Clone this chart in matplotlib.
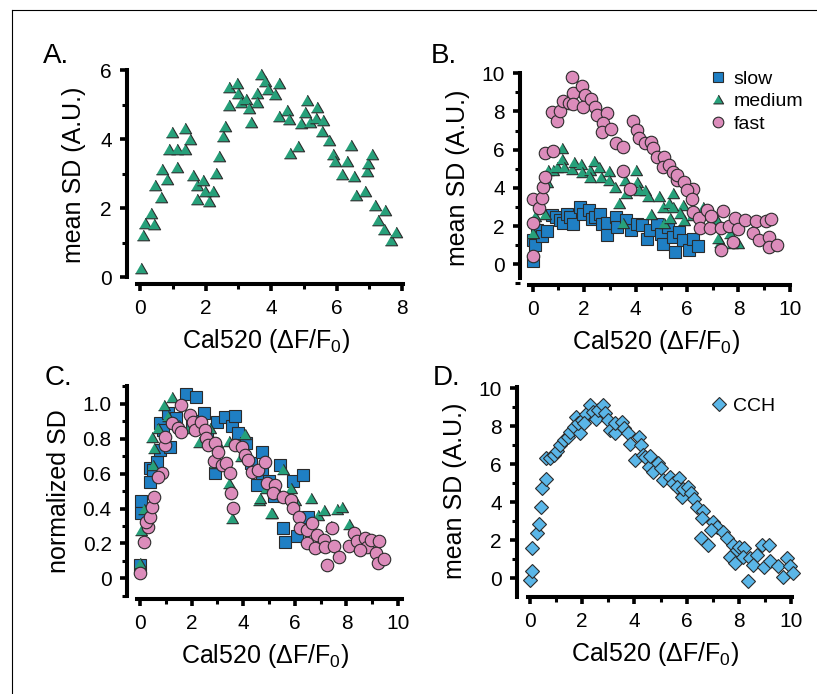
import numpy as np
import matplotlib
matplotlib.use('Agg')
import matplotlib.pyplot as plt
from matplotlib.lines import Line2D
from matplotlib.ticker import MultipleLocator

plt.rcParams['font.family'] = ['Liberation Sans', 'DejaVu Sans']
plt.rcParams['mathtext.fontset'] = 'custom'
plt.rcParams['mathtext.rm'] = 'Liberation Sans'

# ---------------- data ----------------
# A: medium cells, mean SD vs Cal520
a_x = [0.02, 0.08, 0.14, 0.33, 0.44, 0.46, 0.66, 0.65, 0.81, 0.87, 0.99, 1.14, 1.14, 1.38, 1.38,
       1.53, 1.61, 1.73, 1.75, 1.93, 1.97, 2.10, 2.24, 2.32, 2.42, 2.52, 2.60, 2.73, 2.73, 2.95,
       2.99, 3.07, 3.24, 3.34, 3.40, 3.56, 3.58, 3.70, 3.83, 3.91, 4.13, 4.25, 4.24, 4.48, 4.56,
       4.58, 4.82, 4.93, 5.03, 5.11, 5.19, 5.37, 5.41, 5.58, 5.56, 5.76, 5.88, 5.96, 6.17, 6.31,
       6.45, 6.53, 6.60, 6.86, 6.92, 6.96, 7.08, 7.18, 7.27, 7.49, 7.45, 7.65, 7.82]
a_y = [0.25, 1.22, 1.56, 1.85, 1.53, 2.67, 3.15, 2.33, 2.86, 3.73, 4.22, 3.71, 3.21, 4.32, 3.73,
       4.00, 2.97, 2.68, 2.26, 2.82, 2.51, 2.22, 2.49, 3.01, 3.52, 4.09, 4.39, 4.99, 5.53, 5.65,
       5.34, 5.09, 5.17, 4.92, 4.51, 5.34, 5.07, 5.90, 5.69, 5.47, 5.32, 5.65, 4.68, 4.85, 4.58,
       3.61, 3.81, 4.47, 4.78, 5.13, 4.51, 4.62, 4.95, 4.56, 4.23, 3.98, 3.58, 3.38, 2.99, 3.38,
       3.83, 2.94, 2.39, 2.51, 3.09, 3.32, 3.58, 2.08, 1.66, 1.95, 1.40, 1.08, 1.31]

# B: slow / medium / fast
slow_x = [0.0, 0.0, 0.08, 0.18, 0.35, 0.57, 0.75, 0.91, 1.05, 1.19, 1.32, 1.45, 1.58, 1.84, 1.97,
          2.20, 2.31, 2.44, 2.62, 2.69, 2.88, 2.90, 3.24, 3.29, 3.63, 3.81, 4.04, 4.25, 4.43, 4.56,
          4.82, 4.97, 5.08, 5.26, 5.47, 5.54, 5.70, 5.85, 6.06, 6.22, 6.42]
slow_y = [0.15, 1.25, 1.00, 1.78, 1.50, 1.76, 2.58, 2.45, 2.30, 2.15, 2.64, 2.45, 2.12, 3.00, 2.64,
          2.85, 2.36, 2.50, 2.64, 2.10, 2.18, 1.55, 2.50, 1.97, 2.32, 1.80, 2.12, 2.06, 1.33, 1.80,
          2.11, 1.57, 1.06, 1.97, 1.45, 0.66, 1.71, 1.27, 0.75, 1.31, 0.98]

med_x = [0.03, 0.10, 0.49, 0.55, 0.60, 0.80, 0.93, 1.14, 1.14, 1.22, 1.53, 1.61, 1.87, 1.92, 2.23,
         2.38, 2.56, 2.23, 2.64, 2.95, 2.98, 3.21, 3.34, 3.58, 3.63, 4.02, 4.04, 4.15, 4.38, 4.48,
         4.92, 5.08, 5.28, 5.47, 4.61, 3.50, 5.10, 5.47, 5.85, 5.73, 5.34, 5.88, 6.20, 6.61, 6.90,
         7.05, 7.15, 7.28, 7.67, 7.73, 7.99, 7.20]
med_y = [1.66, 2.55, 2.64, 4.30, 4.94, 4.94, 5.08, 6.07, 5.53, 5.08, 4.97, 5.36, 5.25, 4.83, 4.94,
         5.43, 5.11, 4.55, 4.59, 4.90, 4.41, 4.07, 3.23, 4.41, 3.72, 4.94, 4.33, 3.89, 3.89, 3.58,
         3.58, 3.02, 3.19, 3.72, 2.64, 2.18, 2.15, 3.02, 3.11, 2.67, 2.41, 2.32, 2.60, 3.02, 2.20,
         2.55, 2.32, 1.19, 1.62, 1.13, 1.10, 1.36]

fast_x = [0.03, 0.03, 0.0, 0.23, 0.36, 0.39, 0.49, 0.47, 0.80, 0.75, 0.93, 1.06, 1.19, 1.40, 1.53,
          1.58, 1.55, 1.92, 2.05, 1.97, 2.28, 2.44, 2.49, 2.90, 2.72, 2.69, 3.06, 3.24, 3.52, 3.50,
          3.78, 3.91, 4.04, 4.15, 4.38, 4.61, 4.69, 4.82, 5.10, 5.08, 5.31, 5.47, 5.62, 5.60, 5.88,
          6.22, 5.99, 6.18, 6.24, 6.48, 6.76, 6.50, 6.89, 6.92, 7.38, 7.31, 7.64, 7.87, 8.00, 8.26,
          8.70, 9.07, 9.27, 8.55, 8.81, 9.17, 9.20, 9.51, 7.80, 7.31]
fast_y = [0.45, 2.18, 3.40, 2.93, 3.46, 4.07, 4.59, 5.85, 5.92, 7.98, 7.49, 8.00, 8.53, 8.43, 9.79,
          8.95, 8.39, 9.34, 8.88, 8.25, 8.64, 8.25, 7.84, 7.91, 7.42, 6.95, 7.07, 6.37, 6.16, 4.90,
          3.93, 7.52, 7.03, 6.60, 6.37, 6.42, 6.07, 5.60, 5.64, 5.11, 5.18, 4.85, 4.41, 4.68, 4.33,
          3.93, 3.89, 3.40, 2.76, 2.41, 2.84, 1.88, 1.88, 2.53, 2.81, 1.88, 2.00, 2.41, 1.87, 2.32,
          2.29, 2.25, 2.36, 1.62, 1.27, 1.45, 0.92, 1.01, 1.19, 0.75]

# C: normalized SD
slow_nx = [0.0, 0.04, 0.04, 0.37, 0.40, 0.50, 0.66, 0.76, 0.79, 0.90, 1.10, 1.15, 1.40, 1.77, 2.00,
           2.16, 2.49, 2.60, 2.91, 2.98, 3.29, 3.55, 3.68, 3.79, 4.10, 4.30, 4.52, 4.72, 4.73, 5.00,
           5.20, 5.43, 5.56, 5.61, 5.92, 6.07, 6.31, 6.50]
slow_ny = [0.076, 0.445, 0.377, 0.554, 0.631, 0.620, 0.669, 0.736, 0.889, 0.850, 0.950, 0.755, 0.920,
           1.057, 0.900, 1.042, 0.946, 0.840, 0.602, 0.899, 0.927, 0.874, 0.931, 0.832, 0.774, 0.660,
           0.535, 0.727, 0.602, 0.560, 0.470, 0.650, 0.287, 0.210, 0.555, 0.240, 0.593, 0.350]

med_nx = [0.0, 0.04, 0.17, 0.45, 0.50, 0.56, 0.70, 0.92, 1.10, 1.23, 1.50, 1.90, 2.29, 2.70, 2.90,
          3.00, 3.45, 3.45, 3.55, 3.90, 4.07, 4.60, 4.65, 4.90, 5.09, 5.10, 5.53, 5.87, 6.00, 6.62,
          6.90, 7.13, 7.40, 7.65, 7.83, 8.08]
med_ny = [0.086, 0.277, 0.400, 0.810, 0.650, 0.750, 0.860, 0.996, 0.930, 1.042, 0.880, 0.860, 0.784,
          0.860, 0.660, 0.780, 0.549, 0.790, 0.344, 0.700, 0.826, 0.449, 0.459, 0.520, 0.373, 0.373,
          0.625, 0.516, 0.450, 0.459, 0.360, 0.392, 0.300, 0.400, 0.411, 0.312]

fast_nx = [0.0, 0.14, 0.32, 0.22, 0.40, 0.45, 0.53, 0.84, 0.71, 0.97, 0.97, 1.23, 1.49, 1.59, 1.59,
           1.95, 2.07, 2.13, 2.36, 2.52, 2.57, 2.65, 2.91, 2.86, 3.04, 3.17, 3.35, 3.50, 3.53, 3.60,
           3.68, 3.94, 4.07, 4.20, 4.33, 4.59, 4.85, 4.94, 5.24, 5.17, 5.56, 5.87, 5.92, 6.15, 6.20,
           6.46, 6.65, 6.85, 7.13, 7.44, 6.49, 6.80, 7.16, 7.52, 7.26, 7.73, 8.09, 8.29, 8.42, 8.72,
           8.79, 8.94, 9.28, 9.15, 9.24, 9.46, 8.53]
fast_ny = [0.033, 0.210, 0.296, 0.325, 0.354, 0.407, 0.468, 0.602, 0.580, 0.765, 0.813, 0.889, 0.860,
           0.994, 0.841, 0.937, 0.899, 0.851, 0.895, 0.851, 0.803, 0.765, 0.774, 0.675, 0.727, 0.650,
           0.660, 0.602, 0.488, 0.405, 0.765, 0.755, 0.707, 0.679, 0.612, 0.621, 0.669, 0.545, 0.535,
           0.488, 0.468, 0.449, 0.402, 0.354, 0.287, 0.277, 0.316, 0.249, 0.220, 0.287, 0.201, 0.172,
           0.182, 0.185, 0.076, 0.124, 0.185, 0.262, 0.216, 0.229, 0.182, 0.220, 0.216, 0.143, 0.086,
           0.109, 0.163]

# D: CCH
cch_x = [0.0, 0.06, 0.09, 0.27, 0.34, 0.42, 0.47, 0.63, 0.60, 0.75, 0.91, 1.03, 1.16, 1.29, 1.47,
         1.55, 1.70, 1.75, 1.93, 1.83, 1.98, 2.13, 2.08, 2.31, 2.41, 2.52, 2.62, 2.80, 2.87, 3.00,
         3.08, 3.26, 3.26, 3.51, 3.59, 3.74, 3.84, 4.02, 4.18, 4.25, 4.34, 4.41, 4.56, 4.60, 4.70,
         4.92, 5.01, 5.11, 5.36, 5.49, 5.72, 5.64, 5.81, 5.85, 6.06, 6.16, 6.28, 6.41, 6.62, 6.58,
         7.00, 7.18, 6.92, 6.54, 6.83, 7.41, 7.54, 7.79, 7.66, 7.92, 8.02, 8.20, 7.86, 8.15, 8.43,
         8.33, 8.68, 8.55, 8.89, 9.17, 8.97, 9.19, 9.48, 9.83, 9.96, 9.67, 10.07]
cch_y = [-0.09, 0.40, 1.58, 2.40, 2.86, 3.77, 4.74, 5.21, 6.32, 6.32, 6.49, 6.70, 7.02, 7.28, 7.46,
         7.72, 7.95, 8.47, 7.63, 8.16, 8.33, 8.65, 8.16, 9.12, 8.77, 8.37, 8.86, 9.12, 8.68, 8.33,
         7.81, 7.63, 8.16, 8.25, 7.89, 7.63, 7.07, 6.23, 7.46, 7.02, 6.49, 6.40, 5.88, 6.44, 5.61,
         6.05, 5.79, 5.18, 5.35, 5.00, 5.26, 4.79, 4.30, 4.68, 4.82, 4.47, 4.16, 3.77, 3.56, 3.16,
         2.98, 2.72, 2.54, 2.11, 1.75, 2.46, 2.11, 1.75, 1.14, 1.49, 1.67, 1.58, 0.79, 1.14, 1.05,
         -0.12, 1.23, 0.70, 1.75, 1.75, 0.61, 0.93, 0.65, 1.05, 0.65, 0.09, 0.26]

# ---------------- styling ----------------
GREEN = '#27a07a'
BLUE = '#1f7fc4'
PINK = '#dc8cbb'
LIGHTBLUE = '#5ab6e8'
EDGE = '#2b2b2b'
TRI = [(-1, -0.866), (1, -0.866), (0, 0.866)]  # equilateral triangle marker

W, H = 817, 694
fig = plt.figure(figsize=(W / 100, H / 100), dpi=100)

# thin frame (left + top edge) of the original figure panel
fig.add_artist(Line2D([12 / W, 12 / W], [0, 1 - 10 / H], color='black', lw=0.8))
fig.add_artist(Line2D([12 / W, 1], [1 - 10 / H, 1 - 10 / H], color='black', lw=0.8))


def add_ax(left, right, top, bottom):
    return fig.add_axes([left / W, 1 - bottom / H, (right - left) / W, (bottom - top) / H])


def style(ax, xlim, ylim, xb, yb, ymaj, ymin, xmaj=2, xmin=1):
    ax.set_xlim(*xlim)
    ax.set_ylim(*ylim)
    for s in ['top', 'right']:
        ax.spines[s].set_visible(False)
    for s in ['left', 'bottom']:
        ax.spines[s].set_linewidth(2.9)
    ax.spines['bottom'].set_bounds(*xb)
    ax.spines['left'].set_bounds(*yb)
    ax.xaxis.set_major_locator(MultipleLocator(xmaj))
    ax.xaxis.set_minor_locator(MultipleLocator(xmin))
    ax.yaxis.set_major_locator(MultipleLocator(ymaj))
    ax.yaxis.set_minor_locator(MultipleLocator(ymin))
    ax.tick_params(which='major', direction='out', length=5, width=2.6, labelsize=15, pad=6)
    ax.tick_params(which='minor', direction='out', length=3.5, width=2.2)
    ax.tick_params(axis='x', which='both', pad=6)
    # Prism-style detached axis lines, also drawn at figure level along the axes edges
    fig.add_artist(Line2D([xlim[0], xlim[0]], list(yb), transform=ax.transData, color='black',
                          lw=2.9, solid_capstyle='butt', zorder=10))
    fig.add_artist(Line2D(list(xb), [ylim[0], ylim[0]], transform=ax.transData, color='black',
                          lw=2.9, solid_capstyle='butt', zorder=10))


def sc(ax, x, y, marker, color, size, label=None):
    ax.plot(x, y, linestyle='none', marker=marker, markersize=size, markerfacecolor=color,
            markeredgecolor=EDGE, markeredgewidth=0.8, clip_on=False, label=label)


XLABEL = r'Cal520 ($\Delta$F/F$_{0}$)'

# A
axA = add_ax(127, 405, 66, 284)
sc(axA, a_x, a_y, TRI, GREEN, 8.8)
style(axA, (-0.397, 8.09), (-0.203, 6.13), (-0.1, 8.03), (0, 6.02), 2, 1)
axA.set_ylabel('mean SD (A.U.)', fontsize=18, labelpad=10)
axA.set_xlabel(XLABEL, fontsize=18, labelpad=6)

# B
axB = add_ax(520, 793, 70, 285)
sc(axB, slow_x, slow_y, 's', BLUE, 8.0, 'slow')
sc(axB, med_x, med_y, TRI, GREEN, 8.6, 'medium')
sc(axB, fast_x, fast_y, 'o', PINK, 9.0, 'fast')
style(axB, (-0.494, 10.12), (-1.084, 10.17), (-0.14, 10.02), (-0.73, 10.02), 2, 1)
axB.set_ylabel('mean SD (A.U.)', fontsize=18, labelpad=8)
axB.set_xlabel(XLABEL, fontsize=18, labelpad=6)
axB.legend(loc='upper left', bbox_to_anchor=(709 / W, 1 - 70 / H), bbox_transform=fig.transFigure,
           frameon=False, fontsize=14, numpoints=1, handlelength=0.9, handletextpad=0.35,
           labelspacing=0.25, borderpad=0, borderaxespad=0, markerscale=0.85)

# C
axC = add_ax(127, 404, 383, 599)
sc(axC, slow_nx, slow_ny, 's', BLUE, 8.0)
sc(axC, med_nx, med_ny, TRI, GREEN, 8.6)
sc(axC, fast_nx, fast_ny, 'o', PINK, 9.0)
style(axC, (-0.504, 10.23), (-0.119, 1.12), (-0.1, 10.15), (-0.1, 1.1), 0.2, 0.1)
axC.set_yticks([0, 0.2, 0.4, 0.6, 0.8, 1.0])
axC.set_yticklabels(['0', '0.2', '0.4', '0.6', '0.8', '1.0'])
axC.set_ylabel('normalized SD', fontsize=18, labelpad=8)
axC.set_xlabel(XLABEL, fontsize=18, labelpad=6)

# D
axD = add_ax(517, 794, 385, 597)
sc(axD, cch_x, cch_y, 'D', LIGHTBLUE, 6.8, 'CCH')
style(axD, (-0.498, 10.11), (-0.98, 10.17), (-0.07, 10.05), (-0.97, 10.05), 2, 1)
axD.set_ylabel('mean SD (A.U.)', fontsize=18, labelpad=8)
axD.set_xlabel(XLABEL, fontsize=18, labelpad=6)
axD.legend(loc='upper left', bbox_to_anchor=(710 / W, 1 - 397 / H), bbox_transform=fig.transFigure,
           frameon=False, fontsize=14, numpoints=1, handlelength=0.9, handletextpad=0.3,
           borderpad=0, borderaxespad=0)

# panel letters
for lbl, px, py in [('A.', 43, 63), ('B.', 431, 63), ('C.', 45, 385), ('D.', 433, 385)]:
    fig.text(px / W, 1 - py / H, lbl, fontsize=20, ha='left', va='baseline')

plt.savefig('out.png', dpi=100)
